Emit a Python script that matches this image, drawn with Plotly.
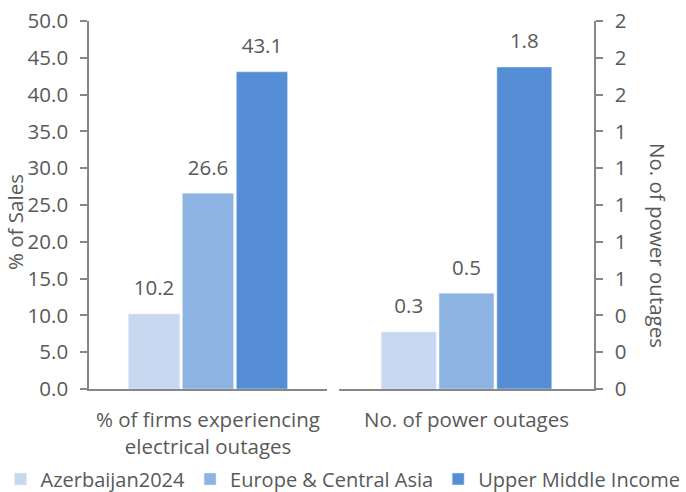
import plotly.graph_objects as go

categories = ["% of firms experiencing<br>electrical outages", "No. of power outages"]
series_names = ["Azerbaijan2024", "Europe & Central Asia", "Upper Middle Income"]
series_colors = ["#C6D9F1", "#8DB3E2", "#558ED5"]
pct_firms = [10.2, 26.6, 43.1]        # % of firms experiencing electrical outages
num_outages = [0.31, 0.52, 1.75]      # No. of power outages

left_ticks = [i * 5 for i in range(11)]
right_ticks = [i * 0.2 for i in range(11)]

W, H = 686, 492
FONT = "Open Sans"
TXT = "#595959"
AX = "#878787"
FS = 20.5

fig = go.Figure()
for i, name in enumerate(series_names):
    fig.add_trace(go.Bar(
        x=[categories[0]], y=[pct_firms[i]], name=name, marker_color=series_colors[i],
        xaxis="x", yaxis="y", legendgroup=name, showlegend=True, offsetgroup=str(i),
    ))
    fig.add_trace(go.Bar(
        x=[categories[1]], y=[num_outages[i]], name=name, marker_color=series_colors[i],
        xaxis="x2", yaxis="y2", legendgroup=name, showlegend=False, offsetgroup=str(i),
    ))
# value labels
for i, name in enumerate(series_names):
    for xa, ya, cat, val in (("x", "y", categories[0], pct_firms[i]), ("x2", "y2", categories[1], num_outages[i])):
        fig.add_trace(go.Scatter(
            x=[cat], y=[val], mode="markers+text", text=[f"{val:.1f}"],
            textposition="top center", textfont=dict(size=FS, color=TXT, family=FONT),
            marker=dict(size=20, opacity=0), xaxis=xa, yaxis=ya,
            showlegend=False, hoverinfo="skip", offsetgroup=str(i), cliponaxis=False,
        ))

common_x = dict(showline=True, linecolor=AX, linewidth=1.5, ticks="outside", ticklen=1,
                tickcolor="rgba(0,0,0,0)", showgrid=False, automargin=False,
                ticklabelstandoff=11, tickfont=dict(size=FS, color=TXT))
common_y = dict(showline=True, linecolor=AX, linewidth=1.5, ticks="outside", ticklen=7,
                tickcolor=AX, tickwidth=1.5, showgrid=False, zeroline=False, automargin=False,
                ticklabelstandoff=8, tickfont=dict(size=FS, color=TXT),
                domain=[1 - 389 / H, 1 - 21 / H])

fig.update_layout(
    width=W, height=H,
    margin=dict(l=0, r=0, t=0, b=0, autoexpand=False),
    paper_bgcolor="white", plot_bgcolor="white",
    font=dict(family=FONT, size=FS, color=TXT),
    barmode="group", bargap=0.32, bargroupgap=0.05,
    scattermode="group", scattergap=0.32,
    showlegend=True,
    legend=dict(orientation="h", x=0.5, xanchor="center", y=1 - 479 / H, yanchor="middle",
                font=dict(size=20, color=TXT), itemwidth=30, traceorder="normal"),
    xaxis=dict(domain=[89 / W, 327 / W], anchor="y", **common_x),
    yaxis=dict(anchor="x", range=[0, 50], tickvals=left_ticks, tickformat=".1f", **common_y),
    xaxis2=dict(domain=[339 / W, 594 / W], anchor="y2", **common_x),
    yaxis2=dict(anchor="x2", side="right", range=[0, 2], tickvals=right_ticks, tickformat=".0f", **common_y),
    annotations=[
        dict(text="% of Sales", x=15 / W, y=1 - 222 / H, xref="paper", yref="paper",
             textangle=-90, showarrow=False, font=dict(size=FS, color=TXT), xanchor="center", yanchor="middle"),
        dict(text="No. of power outages", x=658 / W, y=1 - 245 / H, xref="paper", yref="paper",
             textangle=90, showarrow=False, font=dict(size=FS, color=TXT), xanchor="center", yanchor="middle"),
    ],
)

fig.write_html("out.html", config={"displayModeBar": False},
               post_script="document.body.style.margin='0';")
